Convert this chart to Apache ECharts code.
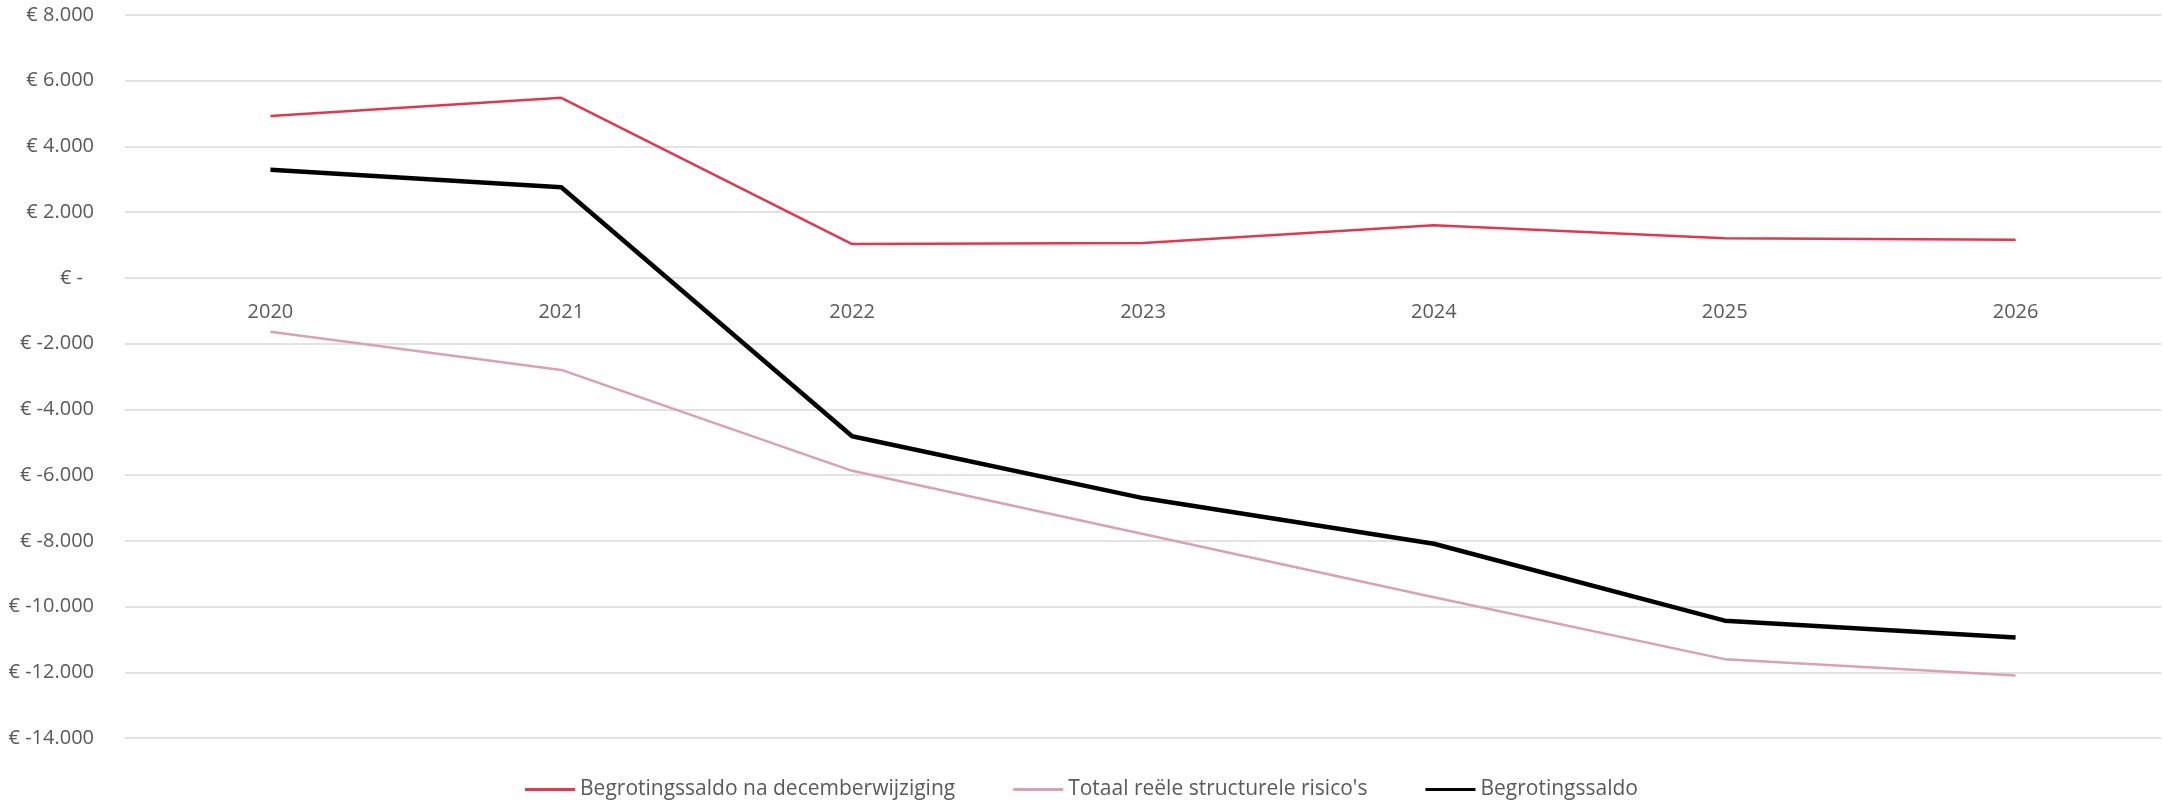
<!DOCTYPE html>
<html>
<head>
<meta charset="utf-8">
<script src="https://cdn.jsdelivr.net/npm/echarts@6/dist/echarts.min.js"></script>
<style>
html,body{margin:0;padding:0;background:#fff;}
#chart{width:2163px;height:807px;}
</style>
</head>
<body>
<div id="chart"></div>
<script>
const categories = ['2020','2021','2022','2023','2024','2025','2026'];
const saldoDecember = [4930, 5480, 1030, 1060, 1600, 1210, 1160];
const risicos = [-1640, -2800, -5870, -7790, -9720, -11600, -12100];
const begrotingssaldo = [3290, 2760, -4820, -6700, -8090, -10430, -10940];
const seriesNames = ['Begrotingssaldo na decemberwijziging', "Totaal reële structurele risico's", 'Begrotingssaldo'];

function fmt(v){
  if (v === 0) return '{z|€ -}';
  const s = Math.abs(v).toString().replace(/\B(?=(\d{3})+(?!\d))/g, '.');
  return '€ ' + (v < 0 ? '-' : '') + s;
}

const W = 2163, H = 807, TOP = 15, BOTTOM = 69;
const yMin = -14000, yMax = 8000;
const plotH = H - TOP - BOTTOM;
const zeroOffset = -(plotH * (0 - yMin) / (yMax - yMin));

const chart = echarts.init(document.getElementById('chart'));
const font = 'Open Sans';
chart.setOption({
  animation: false,
  backgroundColor: '#ffffff',
  textStyle: {fontFamily: font},
  grid: {left: 125, right: 2, top: TOP, bottom: BOTTOM, containLabel: false},
  legend: {
    bottom: 2,
    left: 'center',
    itemWidth: 50,
    itemHeight: 3,
    itemGap: 58,
    icon: 'rect',
    textStyle: {fontFamily: font, fontSize: 21, color: '#595959'},
    data: seriesNames
  },
  xAxis: {
    type: 'category',
    data: categories,
    boundaryGap: true,
    offset: zeroOffset,
    axisLine: {show: false, onZero: false},
    axisTick: {show: false},
    axisLabel: {fontFamily: font, fontSize: 20, color: '#595959', margin: 24}
  },
  yAxis: {
    type: 'value',
    min: yMin,
    max: yMax,
    interval: 2000,
    axisLine: {show: false},
    axisTick: {show: false},
    splitLine: {lineStyle: {color: '#d9d9d9', width: 1.5}},
    axisLabel: {
      fontFamily: font, fontSize: 20, color: '#595959', margin: 31,
      formatter: fmt,
      rich: {z: {fontFamily: font, fontSize: 20, color: '#595959', padding: [0, 11, 0, 0]}}
    }
  },
  series: [
    {name: seriesNames[0], type: 'line', data: saldoDecember, symbol: 'none',
     itemStyle: {color: '#E0384F'}, lineStyle: {color: '#E0384F', width: 2.5}},
    {name: seriesNames[1], type: 'line', data: risicos, symbol: 'none',
     itemStyle: {color: '#D9A1B6'}, lineStyle: {color: '#D9A1B6', width: 2.5}},
    {name: seriesNames[2], type: 'line', data: begrotingssaldo, symbol: 'none',
     itemStyle: {color: '#000000'}, lineStyle: {color: '#000000', width: 4.5}}
  ]
});
</script>
</body>
</html>
